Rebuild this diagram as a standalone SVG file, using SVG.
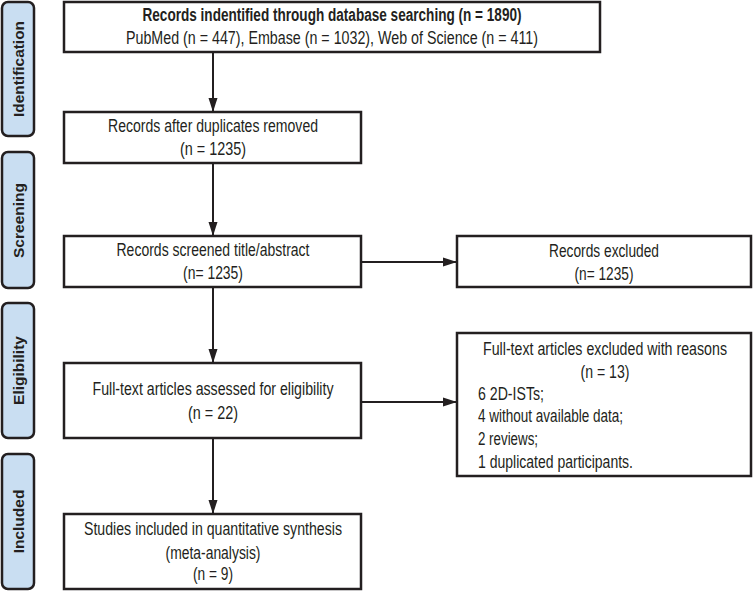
<svg xmlns="http://www.w3.org/2000/svg" width="754" height="591" viewBox="0 0 754 591">
<defs>
<style>
.box{fill:#fff;stroke:#231f20;stroke-width:2.5}
.stage{fill:#c9def2;stroke:#231f20;stroke-width:2.5}
.t{font-family:"Liberation Sans Narrow","Liberation Sans",Arial,sans-serif;font-size:17.5px;fill:#231f20}
.c{text-anchor:middle}
.b{font-weight:bold}
.s{font-family:"Liberation Sans",Arial,sans-serif;font-size:15.5px;font-weight:bold;fill:#231f20;text-anchor:middle}
.ln{fill:none;stroke:#231f20;stroke-width:2;marker-end:url(#ah)}
</style>
<marker id="ah" markerUnits="userSpaceOnUse" markerWidth="14" markerHeight="10" refX="14" refY="5" orient="auto">
<path d="M0,0.5 L14,5 L0,9.5 z" fill="#231f20"/>
</marker>
</defs>
<rect width="754" height="591" fill="#fff"/>

<g id="stage-identification">
<rect class="stage" x="2" y="2" width="32" height="134" rx="6"/>
<text class="s" transform="translate(23.5,69) rotate(-90)" textLength="96" lengthAdjust="spacingAndGlyphs">Identification</text>
</g>
<g id="stage-screening">
<rect class="stage" x="2" y="152" width="32" height="136" rx="6"/>
<text class="s" transform="translate(23.5,220.5) rotate(-90)" textLength="75" lengthAdjust="spacingAndGlyphs">Screening</text>
</g>
<g id="stage-eligibility">
<rect class="stage" x="2" y="303" width="32" height="135" rx="6"/>
<text class="s" transform="translate(23.5,370.5) rotate(-90)">Eligibility</text>
</g>
<g id="stage-included">
<rect class="stage" x="2" y="454" width="32" height="135" rx="6"/>
<text class="s" transform="translate(23.5,521.5) rotate(-90)">Included</text>
</g>

<g id="connectors">
<line class="ln" x1="213" y1="52" x2="213" y2="112"/>
<line class="ln" x1="213" y1="163" x2="213" y2="236"/>
<line class="ln" x1="213" y1="287" x2="213" y2="363"/>
<line class="ln" x1="213" y1="438" x2="213" y2="514"/>
<line class="ln" x1="361" y1="262" x2="457" y2="262"/>
<line class="ln" x1="361" y1="402" x2="457" y2="402"/>
</g>

<g id="identified">
<rect class="box" x="64" y="2" width="536" height="50"/>
<text class="t c b" x="332" y="21" textLength="379" lengthAdjust="spacingAndGlyphs">Records indentified through database searching (n = 1890)</text>
<text class="t c" x="332" y="44" textLength="412" lengthAdjust="spacingAndGlyphs">PubMed (n = 447), Embase (n = 1032), Web of Science (n = 411)</text>
</g>
<g id="dedup">
<rect class="box" x="64" y="112" width="297" height="51"/>
<text class="t c" x="213" y="132" textLength="210" lengthAdjust="spacingAndGlyphs">Records after duplicates removed</text>
<text class="t c" x="213" y="155" textLength="66" lengthAdjust="spacingAndGlyphs">(n = 1235)</text>
</g>
<g id="screened">
<rect class="box" x="64" y="236" width="297" height="51"/>
<text class="t c" x="213" y="256" textLength="193" lengthAdjust="spacingAndGlyphs">Records screened title/abstract</text>
<text class="t c" x="213" y="279" textLength="60" lengthAdjust="spacingAndGlyphs">(n= 1235)</text>
</g>
<g id="excluded">
<rect class="box" x="457" y="236" width="294" height="51"/>
<text class="t c" x="604" y="257" textLength="110" lengthAdjust="spacingAndGlyphs">Records excluded</text>
<text class="t c" x="604" y="280" textLength="59" lengthAdjust="spacingAndGlyphs">(n= 1235)</text>
</g>
<g id="fulltext">
<rect class="box" x="64" y="363" width="297" height="75"/>
<text class="t c" x="213" y="395" textLength="241" lengthAdjust="spacingAndGlyphs">Full-text articles assessed for eligibility</text>
<text class="t c" x="213" y="419" textLength="50" lengthAdjust="spacingAndGlyphs">(n = 22)</text>
</g>
<g id="fulltext-excluded">
<rect class="box" x="457" y="333" width="294" height="143"/>
<text class="t c" x="605" y="355" textLength="244" lengthAdjust="spacingAndGlyphs">Full-text articles excluded with reasons</text>
<text class="t c" x="605" y="378" textLength="49" lengthAdjust="spacingAndGlyphs">(n = 13)</text>
<text class="t" x="478" y="400" textLength="66" lengthAdjust="spacingAndGlyphs">6 2D-ISTs;</text>
<text class="t" x="478" y="422" textLength="145" lengthAdjust="spacingAndGlyphs">4 without available data;</text>
<text class="t" x="478" y="445" textLength="60" lengthAdjust="spacingAndGlyphs">2 reviews;</text>
<text class="t" x="478" y="468" textLength="155" lengthAdjust="spacingAndGlyphs">1 duplicated participants.</text>
</g>
<g id="included">
<rect class="box" x="64" y="514" width="297" height="75"/>
<text class="t c" x="213" y="535" textLength="258" lengthAdjust="spacingAndGlyphs">Studies included in quantitative synthesis</text>
<text class="t c" x="213" y="559" textLength="95" lengthAdjust="spacingAndGlyphs">(meta-analysis)</text>
<text class="t c" x="213" y="580" textLength="40" lengthAdjust="spacingAndGlyphs">(n = 9)</text>
</g>
</svg>
